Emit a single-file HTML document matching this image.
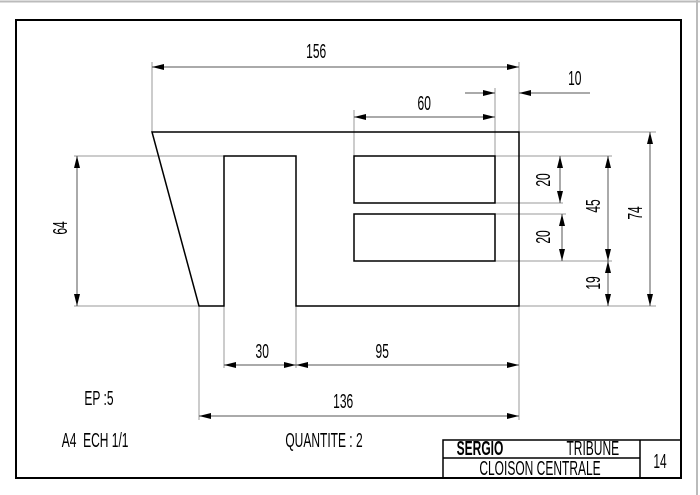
<!DOCTYPE html>
<html><head><style>body{margin:0;background:#fff}svg{display:block}text{font-family:"Liberation Sans",sans-serif;font-size:20px;fill:#000}</style></head><body>
<svg width="700" height="495" viewBox="0 0 700 495" xmlns="http://www.w3.org/2000/svg">
<defs><marker id="a" viewBox="0 0 12 6" refX="12" refY="3" markerWidth="12" markerHeight="6" markerUnits="userSpaceOnUse" orient="auto-start-reverse"><path d="M0,0L12,3L0,6z" fill="#000"/></marker></defs>
<line x1="0" y1="1.5" x2="700" y2="1.5" stroke="#bbb" stroke-width="2"/>
<line x1="697" y1="0" x2="697" y2="495" stroke="#bbb" stroke-width="2"/>
<rect x="16" y="20" width="665" height="458" fill="none" stroke="#000" stroke-width="2"/>
<g stroke="#999" stroke-width="1" fill="none">
<path d="M152 62V132M519 62V420M354 110V156M495 88V156M519 132H656M519 306H656M495 156H612M495 261H612M495 203H563M495 214H566M74 156H224M74 306H199M199 306V420M224 306V368M296 306V368"/>
</g>
<g stroke="#555" stroke-width="1" fill="none">
<line x1="152" y1="67" x2="519" y2="67" marker-start="url(#a)" marker-end="url(#a)"/>
<line x1="354" y1="117" x2="495" y2="117" marker-start="url(#a)" marker-end="url(#a)"/>
<line x1="465" y1="93" x2="495" y2="93" marker-end="url(#a)"/>
<line x1="590" y1="93" x2="519" y2="93" marker-end="url(#a)"/>
<line x1="650" y1="132" x2="650" y2="306" marker-start="url(#a)" marker-end="url(#a)"/>
<line x1="608" y1="156" x2="608" y2="261" marker-start="url(#a)" marker-end="url(#a)"/>
<line x1="608" y1="261" x2="608" y2="306" marker-start="url(#a)" marker-end="url(#a)"/>
<line x1="560" y1="156" x2="560" y2="203" marker-start="url(#a)" marker-end="url(#a)"/>
<line x1="562" y1="214" x2="562" y2="261" marker-start="url(#a)" marker-end="url(#a)"/>
<line x1="77" y1="156" x2="77" y2="306" marker-start="url(#a)" marker-end="url(#a)"/>
<line x1="224" y1="365" x2="296" y2="365" marker-start="url(#a)" marker-end="url(#a)"/>
<line x1="296" y1="365" x2="519" y2="365" marker-start="url(#a)" marker-end="url(#a)"/>
<line x1="199" y1="416" x2="519" y2="416" marker-start="url(#a)" marker-end="url(#a)"/>
</g>
<g stroke="#000" stroke-width="1.5" fill="none">
<path d="M152 132H519V306H296V156H224V306H199Z"/>
<rect x="354" y="156" width="141" height="47"/>
<rect x="354" y="214" width="141" height="47"/>
</g>
<g transform="scale(0.6,1)">
<text x="527" y="58" text-anchor="middle">156</text>
<text x="707" y="110" text-anchor="middle">60</text>
<text x="958" y="85" text-anchor="middle">10</text>
<text x="437" y="358" text-anchor="middle">30</text>
<text x="637" y="358" text-anchor="middle">95</text>
<text x="572" y="408" text-anchor="middle">136</text>
<text x="165" y="405" text-anchor="middle">EP :5</text>
<text x="103" y="447">A4 &#160;ECH 1/1</text>
<text x="540" y="447" text-anchor="middle">QUANTITE : 2</text>
<text x="1100" y="468" text-anchor="middle">14</text>
<text x="900" y="475" text-anchor="middle" font-size="18">CLOISON CENTRALE</text>
<text x="800" y="455" text-anchor="middle" font-weight="bold" font-size="18">SERGIO</text>
<text x="988" y="455" text-anchor="middle" font-size="18">TRIBUNE</text>
</g>
<g>
<text transform="translate(67,228) rotate(-90) scale(0.6,1)" text-anchor="middle">64</text>
<text transform="translate(550,180) rotate(-90) scale(0.6,1)" text-anchor="middle">20</text>
<text transform="translate(550,237) rotate(-90) scale(0.6,1)" text-anchor="middle">20</text>
<text transform="translate(600,206) rotate(-90) scale(0.6,1)" text-anchor="middle">45</text>
<text transform="translate(642,213) rotate(-90) scale(0.6,1)" text-anchor="middle">74</text>
<text transform="translate(600,283) rotate(-90) scale(0.6,1)" text-anchor="middle">19</text>
</g>
<g stroke="#000" stroke-width="1.5" fill="none">
<path d="M443 478V440H681M640 440V478M443 458H640"/>
</g>
</svg>
</body></html>
